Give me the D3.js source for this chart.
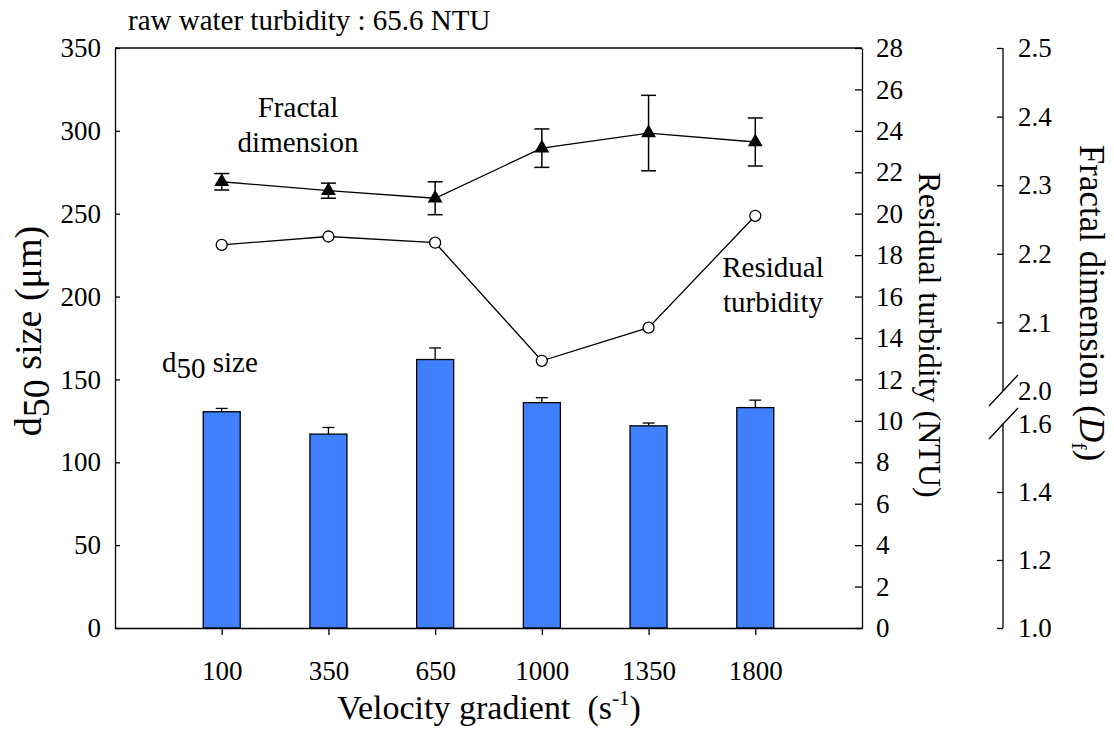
<!DOCTYPE html>
<html>
<head>
<meta charset="utf-8">
<script src="https://cdn.jsdelivr.net/npm/d3@7"></script>
<style>
  body { margin: 0; background: #fff; }
  svg text { font-family: "Liberation Serif", "Times New Roman", serif; fill: #000; }
  .axis path, .axis line { stroke: #000; stroke-width: 1.3; }
  .axis text { font-size: 27px; font-family: "Liberation Serif", "Times New Roman", serif; }
</style>
</head>
<body>
<div id="chart"></div>
<script>

// velocity gradient categories (s^-1)
const gradients = ["100", "350", "650", "1000", "1350", "1800"];

// d50 size (um), bars with upper error
const d50 = [130.5, 117, 162, 136, 122, 133];
const d50Err = [2, 4, 7, 3, 1.7, 4.5];

// residual turbidity (NTU), open circles
const turbidity = [18.5, 18.9, 18.6, 12.9, 14.5, 19.9];

// fractal dimension (Df), filled triangles
const fractal = [2.305, 2.292, 2.281, 2.354, 2.376, 2.363];
const fractalErr = [0.012, 0.011, 0.024, 0.028, 0.055, 0.035];

const leftTicks = [0, 50, 100, 150, 200, 250, 300, 350];
const turbTicks = d3.range(0, 29, 2);
const dfTicks = [1.0, 1.2, 1.4, 1.6, 2.0, 2.1, 2.2, 2.3, 2.4, 2.5];

const width = 1114, height = 733;
const mLeft = 115, mRight = 862, mTop = 48, mBottom = 628;
const dfX = 1003;

const svg = d3.select("#chart")
    .append("svg")
    .attr("width", width)
    .attr("height", height);

const x = d3.scalePoint()
    .domain(gradients)
    .range([mLeft, mRight])
    .padding(1);

const y = d3.scaleLinear().domain([0, 350]).range([mBottom, mTop]);
const yT = d3.scaleLinear().domain([0, 28]).range([mBottom, mTop]);
// broken axis: 1.0-1.6 lower part, 2.0-2.5 upper part
const yD = d3.scaleLinear().domain([1.0, 1.6, 2.0, 2.5]).range([mBottom, 424, 391, mTop]);

// top border
svg.append("line")
    .attr("x1", mLeft).attr("x2", mRight)
    .attr("y1", mTop).attr("y2", mTop)
    .attr("stroke", "#000").attr("stroke-width", 1.3);

// bars
const barW = 37;
svg.selectAll("rect.bar")
    .data(d50)
    .enter()
    .append("rect")
    .attr("class", "bar")
    .attr("x", (d, i) => x(gradients[i]) - barW / 2)
    .attr("y", d => y(d))
    .attr("width", barW)
    .attr("height", d => y(0) - y(d))
    .attr("fill", "#4080ff")
    .attr("stroke", "#000")
    .attr("stroke-width", 1.3);

// bar error (upper only)
const barErr = svg.append("g");
d50.forEach((d, i) => {
    const cx = x(gradients[i]);
    barErr.append("line")
        .attr("x1", cx).attr("x2", cx)
        .attr("y1", y(d)).attr("y2", y(d + d50Err[i]))
        .attr("stroke", "#000").attr("stroke-width", 1.3);
    barErr.append("line")
        .attr("x1", cx - 6).attr("x2", cx + 6)
        .attr("y1", y(d + d50Err[i])).attr("y2", y(d + d50Err[i]))
        .attr("stroke", "#000").attr("stroke-width", 1.3);
});

// left axis
svg.append("g")
    .attr("class", "axis")
    .attr("transform", `translate(${mLeft},0)`)
    .call(d3.axisLeft(y).tickValues(leftTicks).tickSizeInner(-5).tickSizeOuter(0).tickPadding(14));

// bottom axis
svg.append("g")
    .attr("class", "axis")
    .attr("transform", `translate(0,${mBottom})`)
    .call(d3.axisBottom(x).tickSizeInner(7).tickSizeOuter(0).tickPadding(26));

// right axis: residual turbidity
svg.append("g")
    .attr("class", "axis")
    .attr("transform", `translate(${mRight},0)`)
    .call(d3.axisRight(yT).tickValues(turbTicks).tickSizeInner(-7).tickSizeOuter(0).tickPadding(14));

// far right axis: fractal dimension (broken)
const dfAxis = svg.append("g")
    .attr("class", "axis")
    .attr("transform", `translate(${dfX},0)`)
    .call(d3.axisRight(yD).tickValues(dfTicks).tickSizeInner(-6).tickSizeOuter(0)
        .tickPadding(15).tickFormat(d3.format(".1f")));
dfAxis.select(".domain").remove();
dfAxis.selectAll(".tick")
    .filter(d => d === 1.6 || d === 2.0)
    .select("line").remove();
dfAxis.append("line")
    .attr("x1", 0).attr("x2", 0)
    .attr("y1", yD(2.5)).attr("y2", yD(2.0))
    .attr("stroke", "#000").attr("stroke-width", 1.3);
dfAxis.append("line")
    .attr("x1", 0).attr("x2", 0)
    .attr("y1", yD(1.6)).attr("y2", yD(1.0))
    .attr("stroke", "#000").attr("stroke-width", 1.3);
[2.0, 1.6].forEach(v => {
    dfAxis.append("line")
        .attr("x1", -14).attr("x2", 15)
        .attr("y1", yD(v) + 15).attr("y2", yD(v) - 16)
        .attr("stroke", "#000").attr("stroke-width", 1.2);
});

// residual turbidity line
svg.append("path")
    .datum(turbidity)
    .attr("d", d3.line().x((d, i) => x(gradients[i])).y(d => yT(d)))
    .attr("fill", "none")
    .attr("stroke", "#000")
    .attr("stroke-width", 1.3);

// fractal dimension line
svg.append("path")
    .datum(fractal)
    .attr("d", d3.line().x((d, i) => x(gradients[i])).y(d => yD(d)))
    .attr("fill", "none")
    .attr("stroke", "#000")
    .attr("stroke-width", 1.3);

// fractal error bars
const dfErr = svg.append("g");
fractal.forEach((d, i) => {
    const cx = x(gradients[i]);
    const e = fractalErr[i];
    dfErr.append("line")
        .attr("x1", cx).attr("x2", cx)
        .attr("y1", yD(d - e)).attr("y2", yD(d + e))
        .attr("stroke", "#000").attr("stroke-width", 1.5);
    [d - e, d + e].forEach(v => {
        dfErr.append("line")
            .attr("x1", cx - 7.5).attr("x2", cx + 7.5)
            .attr("y1", yD(v)).attr("y2", yD(v))
            .attr("stroke", "#000").attr("stroke-width", 1.5);
    });
});

// triangles
svg.selectAll("path.tri")
    .data(fractal)
    .enter()
    .append("path")
    .attr("class", "tri")
    .attr("d", d3.symbol(d3.symbolTriangle).size(95))
    .attr("transform", (d, i) => `translate(${x(gradients[i])},${yD(d)})`)
    .attr("fill", "#000");

// circles
svg.selectAll("circle.turb")
    .data(turbidity)
    .enter()
    .append("circle")
    .attr("class", "turb")
    .attr("cx", (d, i) => x(gradients[i]))
    .attr("cy", d => yT(d))
    .attr("r", 5.5)
    .attr("fill", "#fff")
    .attr("stroke", "#000")
    .attr("stroke-width", 1.3);

// annotations
svg.append("text")
    .attr("x", 128).attr("y", 30)
    .style("font-size", "29px")
    .text("raw water turbidity : 65.6 NTU");

const fd = svg.append("text")
    .attr("text-anchor", "middle")
    .style("font-size", "29px");
fd.append("tspan").attr("x", 298).attr("y", 117).text("Fractal");
fd.append("tspan").attr("x", 298).attr("y", 152).text("dimension");

const rt = svg.append("text")
    .attr("text-anchor", "middle")
    .style("font-size", "29px");
rt.append("tspan").attr("x", 773).attr("y", 277).text("Residual");
rt.append("tspan").attr("x", 773).attr("y", 312).text("turbidity");

const ds = svg.append("text")
    .attr("x", 162).attr("y", 372)
    .style("font-size", "29px");
ds.append("tspan").text("d");
ds.append("tspan").attr("dy", 6).text("50");
ds.append("tspan").attr("dy", -6).text(" size");

// axis titles
const yl = svg.append("text")
    .attr("transform", "translate(41,331) rotate(-90)")
    .attr("text-anchor", "middle")
    .style("font-size", "38px");
yl.append("tspan").text("d");
yl.append("tspan").attr("dy", 8).text("50");
yl.append("tspan").attr("dy", -8).text(" size (\u03bcm)");

svg.append("text")
    .attr("transform", "translate(919,335) rotate(90)")
    .attr("text-anchor", "middle")
    .style("font-size", "32px")
    .text("Residual turbidity (NTU)");

const dl = svg.append("text")
    .attr("transform", "translate(1080,303) rotate(90)")
    .attr("text-anchor", "middle")
    .style("font-size", "35px");
dl.append("tspan").text("Fractal dimension (");
dl.append("tspan").style("font-style", "italic").text("D");
dl.append("tspan").attr("dy", 8).style("font-size", "22px").text("f");
dl.append("tspan").attr("dy", -8).text(")");

const xl = svg.append("text")
    .attr("x", 489).attr("y", 719)
    .attr("text-anchor", "middle")
    .style("font-size", "34px");
xl.append("tspan").text("Velocity gradient\u00a0\u00a0(s");
xl.append("tspan").attr("dy", -14).style("font-size", "21px").text("-1");
xl.append("tspan").attr("dy", 14).text(")");

</script>
</body>
</html>
